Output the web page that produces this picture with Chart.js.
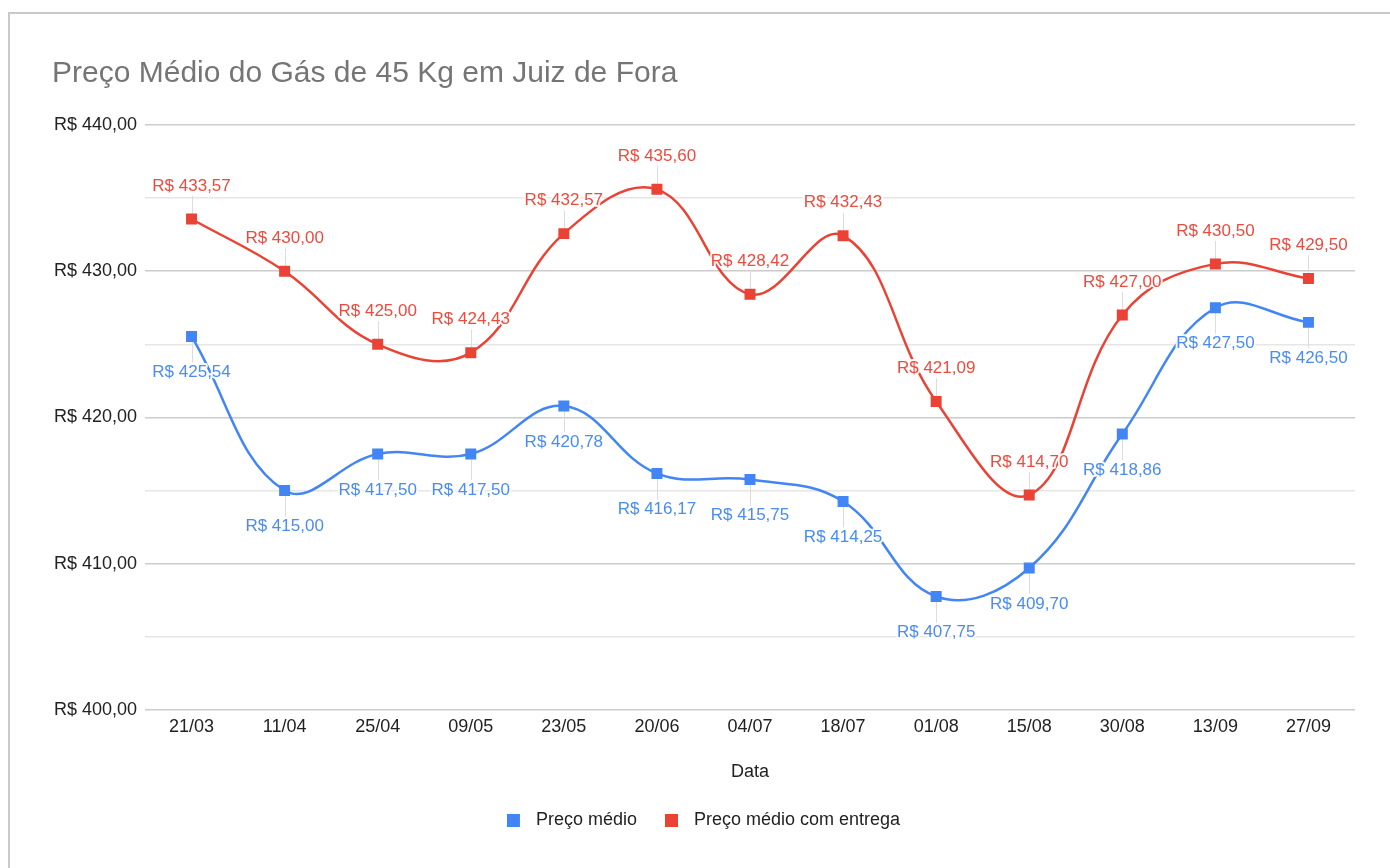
<!DOCTYPE html>
<html>
<head>
<meta charset="utf-8">
<script src="https://cdn.jsdelivr.net/npm/chart.js@4"></script>
<style>
  html, body { margin: 0; padding: 0; background: #fff; overflow: hidden; }
  #frame { position: absolute; left: 8px; top: 12px; width: 1400px; height: 900px; border: 2px solid #c9c9c9; box-sizing: border-box; }
  #wrap { position: absolute; left: 0; top: 0; width: 1390px; height: 868px; }
</style>
</head>
<body>
<div id="frame"></div>
<div id="wrap"><canvas id="c" width="1390" height="868"></canvas></div>
<script>
const categories = ['21/03','11/04','25/04','09/05','23/05','20/06','04/07','18/07','01/08','15/08','30/08','13/09','27/09'];
const precoMedio = [425.54, 415.00, 417.50, 417.50, 420.78, 416.17, 415.75, 414.25, 407.75, 409.70, 418.86, 427.50, 426.50];
const precoEntrega = [433.57, 430.00, 425.00, 424.43, 432.57, 435.60, 428.42, 432.43, 421.09, 414.70, 427.00, 430.50, 429.50];
const seriesNames = ['Preço médio', 'Preço médio com entrega'];
const titleText = 'Preço Médio do Gás de 45 Kg em Juiz de Fora';
const xTitle = 'Data';

const BLUE = '#4285F4';
const RED = '#EA4335';
const FONT = '"Liberation Sans", Arial, sans-serif';

const fmt = v => 'R$ ' + v.toFixed(2).replace('.', ',');

function legendSwatch(color) {
  const c = document.createElement('canvas');
  c.width = 20; c.height = 13;
  const g = c.getContext('2d');
  g.fillStyle = color;
  g.fillRect(0, 0, 13, 13);
  return c;
}

const pointLabels = {
  id: 'pointLabels',
  beforeDatasetsDraw(chart) {
    const ctx = chart.ctx;
    ctx.save();
    ctx.strokeStyle = '#dcdcdc';
    ctx.lineWidth = 1;
    chart.data.datasets.forEach((ds, i) => {
      const meta = chart.getDatasetMeta(i);
      const dir = ds.labelDir;
      meta.data.forEach(p => {
        ctx.beginPath();
        ctx.moveTo(Math.round(p.x) + 0.5, p.y);
        ctx.lineTo(Math.round(p.x) + 0.5, p.y + dir * (ds.labelOffset - 10));
        ctx.stroke();
      });
    });
    ctx.restore();
  },
  afterDatasetsDraw(chart) {
    const ctx = chart.ctx;
    ctx.save();
    ctx.font = '17px ' + FONT;
    ctx.textAlign = 'center';
    ctx.textBaseline = 'middle';
    ctx.lineJoin = 'round';
    chart.data.datasets.forEach((ds, i) => {
      const meta = chart.getDatasetMeta(i);
      const dir = ds.labelDir;
      meta.data.forEach((p, j) => {
        const t = fmt(ds.data[j]);
        const y = p.y + dir * ds.labelOffset;
        ctx.strokeStyle = 'rgba(255,255,255,0.9)';
        ctx.lineWidth = 4;
        ctx.strokeText(t, p.x, y);
        ctx.fillStyle = ds.labelColor;
        ctx.fillText(t, p.x, y);
      });
    });
    ctx.restore();
  }
};

new Chart(document.getElementById('c'), {
  type: 'line',
  data: {
    labels: categories,
    datasets: [
      { label: seriesNames[0], data: precoMedio, borderColor: BLUE, backgroundColor: BLUE,
        borderWidth: 2.5, tension: 0.4, pointStyle: 'rect', pointRadius: 6, pointHoverRadius: 6,
        labelDir: 1, labelOffset: 36, labelColor: '#4A8CF4' },
      { label: seriesNames[1], data: precoEntrega, borderColor: RED, backgroundColor: RED,
        borderWidth: 2.5, tension: 0.4, pointStyle: 'rect', pointRadius: 6, pointHoverRadius: 6,
        labelDir: -1, labelOffset: 33, labelColor: '#EC4B3E' }
    ]
  },
  options: {
    responsive: false,
    devicePixelRatio: 1,
    animation: false,
    layout: { padding: { left: 52, right: 35, top: 54, bottom: 29 } },
    plugins: {
      title: { display: true, text: titleText, align: 'start', color: '#757575',
        font: { family: FONT, size: 30, weight: 'normal' }, padding: { top: 2, bottom: 33 } },
      legend: { position: 'bottom',
        labels: { color: '#222', font: { family: FONT, size: 18 }, usePointStyle: true, pointStyleWidth: 20,
          boxHeight: 13, padding: 28,
          generateLabels: chart => {
            const items = Chart.defaults.plugins.legend.labels.generateLabels(chart);
            items.forEach(it => { it.pointStyle = legendSwatch(chart.data.datasets[it.datasetIndex].borderColor); });
            return items;
          } } },
      tooltip: { enabled: false }
    },
    scales: {
      x: {
        offset: true,
        grid: { display: false, drawTicks: false },
        border: { display: false },
        ticks: { color: '#222', font: { family: FONT, size: 18 }, padding: 6, maxRotation: 0 },
        title: { display: true, text: xTitle, color: '#222', font: { family: FONT, size: 18 }, padding: { top: 18, bottom: 0 } }
      },
      y: {
        min: 400, max: 440,
        afterFit: s => { s.width = 93; },
        grid: { drawTicks: false, color: c => (c.tick && c.tick.value % 10 === 0) ? '#cccccc' : '#e6e6e6', lineWidth: 1.5 },
        border: { display: false },
        ticks: { stepSize: 5, padding: 8, color: '#222', font: { family: FONT, size: 18 },
          callback: v => (v % 10 === 0 ? fmt(v) : '') }
      }
    }
  },
  plugins: [pointLabels]
});
</script>
</body>
</html>
